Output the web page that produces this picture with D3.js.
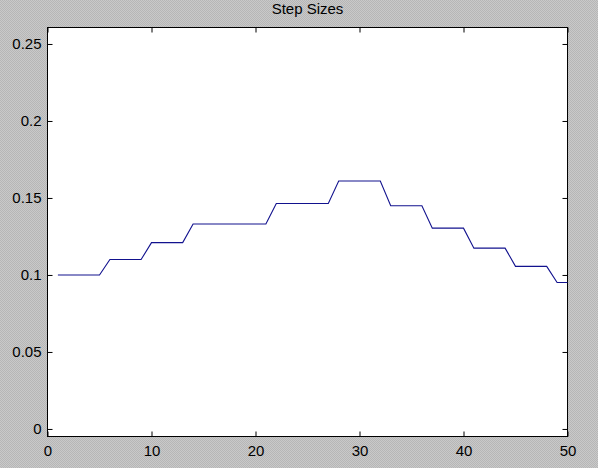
<!DOCTYPE html>
<html>
<head>
<meta charset="utf-8">
<script src="https://cdn.jsdelivr.net/npm/d3@7"></script>
<style>
  html, body { margin: 0; padding: 0; background: #c0c0c0; }
  svg { display: block; }
  text { font-family: "Liberation Sans", Arial, sans-serif; }
</style>
</head>
<body>
<script>
// ---- data ----
const title = "Step Sizes";
const xValues = d3.range(1, 51);
const stepSizes = [
  0.1, 0.1, 0.1, 0.1, 0.1,
  0.11, 0.11, 0.11, 0.11,
  0.121, 0.121, 0.121, 0.121,
  0.1331, 0.1331, 0.1331, 0.1331, 0.1331, 0.1331, 0.1331, 0.1331,
  0.1464, 0.1464, 0.1464, 0.1464, 0.1464, 0.1464,
  0.161, 0.161, 0.161, 0.161, 0.161,
  0.1449, 0.1449, 0.1449, 0.1449,
  0.1304, 0.1304, 0.1304, 0.1304,
  0.1174, 0.1174, 0.1174, 0.1174,
  0.1056, 0.1056, 0.1056, 0.1056,
  0.0951, 0.0951
];
const xTicks = [0, 10, 20, 30, 40, 50];
const yTicks = [0, 0.05, 0.1, 0.15, 0.2, 0.25];
const xDomain = [0, 50];
const yDomain = [-0.0049, 0.2607];

// ---- layout ----
const W = 598, H = 468;
const mLeft = 47.5, mRight = 567.5, mTop = 27.5, mBottom = 436.5;

const svg = d3.select("body").append("svg").attr("width", W).attr("height", H);

const defs = svg.append("defs");
const pat = defs.append("pattern").attr("id", "dither")
  .attr("width", 2).attr("height", 2).attr("patternUnits", "userSpaceOnUse");
pat.append("rect").attr("width", 2).attr("height", 2).attr("fill", "#c9c9c9");
pat.append("rect").attr("width", 1).attr("height", 1).attr("fill", "#b6b6b6");
pat.append("rect").attr("x", 1).attr("y", 1).attr("width", 1).attr("height", 1).attr("fill", "#b6b6b6");

svg.append("rect").attr("width", W).attr("height", H).attr("fill", "url(#dither)");

const x = d3.scaleLinear().domain(xDomain).range([mLeft, mRight]);
const y = d3.scaleLinear().domain(yDomain).range([mBottom, mTop]);

svg.append("rect")
  .attr("x", mLeft).attr("y", mTop)
  .attr("width", mRight - mLeft).attr("height", mBottom - mTop)
  .attr("fill", "#ffffff");

const fmt = d => d === 0 ? "0" : String(+d.toFixed(2));

function styleAxis(g, showLabels) {
  g.select(".domain").remove();
  g.selectAll(".tick line").attr("stroke", "#000").attr("stroke-width", 1);
  g.selectAll(".tick text").attr("fill", "#000").attr("font-size", "15px")
    .attr("font-family", "Liberation Sans, Arial, sans-serif");
  if (!showLabels) g.selectAll(".tick text").remove();
}

// left axis
svg.append("g").attr("transform", `translate(${mLeft},0)`)
  .call(d3.axisLeft(y).tickValues(yTicks).tickFormat(fmt).tickSizeInner(-5).tickSizeOuter(0).tickPadding(6))
  .call(g => styleAxis(g, true));
// right axis ticks
svg.append("g").attr("transform", `translate(${mRight},0)`)
  .call(d3.axisRight(y).tickValues(yTicks).tickSizeInner(-5).tickSizeOuter(0))
  .call(g => styleAxis(g, false));
// bottom axis
svg.append("g").attr("transform", `translate(0,${mBottom})`)
  .call(d3.axisBottom(x).tickValues(xTicks).tickFormat(d3.format("d")).tickSizeInner(-5).tickSizeOuter(0).tickPadding(9))
  .call(g => styleAxis(g, true));
// top axis ticks
svg.append("g").attr("transform", `translate(0,${mTop})`)
  .call(d3.axisTop(x).tickValues(xTicks).tickSizeInner(-5).tickSizeOuter(0))
  .call(g => styleAxis(g, false));

// frame
svg.append("rect")
  .attr("x", mLeft).attr("y", mTop)
  .attr("width", mRight - mLeft).attr("height", mBottom - mTop)
  .attr("fill", "none").attr("stroke", "#000").attr("stroke-width", 1);

// line
const line = d3.line().x((d, i) => x(xValues[i])).y(d => y(d));
svg.append("path")
  .datum(stepSizes)
  .attr("d", line)
  .attr("fill", "none")
  .attr("stroke", "#12128e")
  .attr("stroke-width", 1.1);

// title
svg.append("text")
  .attr("x", (mLeft + mRight) / 2).attr("y", 14)
  .attr("text-anchor", "middle")
  .attr("font-size", "15px")
  .attr("fill", "#000")
  .text(title);
</script>
</body>
</html>
